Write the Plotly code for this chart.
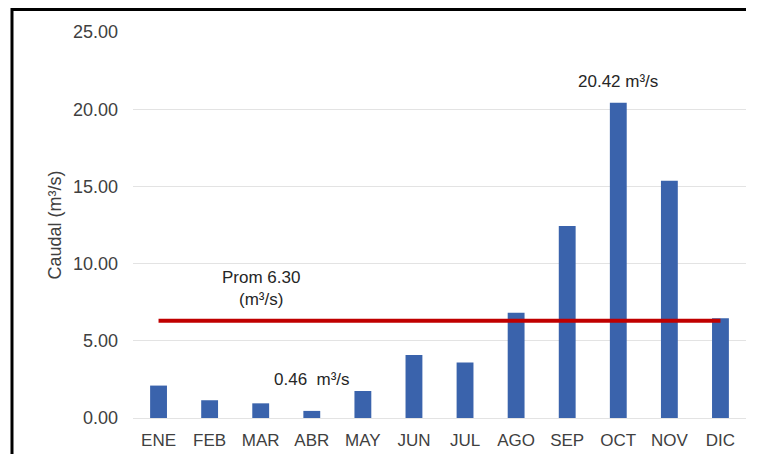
import plotly.graph_objects as go

months = ["ENE", "FEB", "MAR", "ABR", "MAY", "JUN", "JUL", "AGO", "SEP", "OCT", "NOV", "DIC"]
caudal = [2.10, 1.15, 0.95, 0.46, 1.75, 4.08, 3.60, 6.82, 12.43, 20.42, 15.37, 6.46]
y_ticks = [0, 5, 10, 15, 20, 25]
y_tick_labels = ["0.00", "5.00", "10.00", "15.00", "20.00", "25.00"]

prom = round(sum(caudal) / len(caudal), 2)
i_max = caudal.index(max(caudal))
i_min = caudal.index(min(caudal))

FONT = "Arial, Liberation Sans, sans-serif"
TXT = "#404040"

fig = go.Figure()
fig.add_trace(go.Bar(x=months, y=caudal, marker=dict(color="#3A63AC", line=dict(width=0)),
                     showlegend=False, hoverinfo="x+y"))
fig.add_trace(go.Scatter(x=[months[0], months[-1]], y=[prom, prom], mode="lines",
                         line=dict(color="#C00000", width=4), showlegend=False))

fig.add_annotation(x=months[i_max], y=caudal[i_max], xref="x", yref="y",
                   text=f"{caudal[i_max]:.2f} m³/s", showarrow=False,
                   yanchor="bottom", yshift=10, font=dict(size=17, color="#262626", family=FONT))
fig.add_annotation(x=months[i_min], y=caudal[i_min], xref="x", yref="y",
                   text=f"{caudal[i_min]:.2f}  m³/s", showarrow=False,
                   yanchor="bottom", yshift=20, font=dict(size=17, color="#262626", family=FONT))
fig.add_annotation(x=months[2], y=prom, xref="x", yref="y",
                   text=f"Prom {prom:.2f}<br>(m³/s)", showarrow=False,
                   yanchor="bottom", yshift=10, font=dict(size=17, color="#262626", family=FONT))

# outer frame (left / top black)
fig.add_shape(type="line", xref="paper", yref="paper", x0=-0.1974, x1=-0.1974, y0=-0.10, y1=1.062,
              line=dict(color="black", width=3))
fig.add_shape(type="line", xref="paper", yref="paper", x0=-0.1974, x1=1.0, y0=1.058, y1=1.058,
              line=dict(color="black", width=3))

fig.update_layout(
    width=742, height=446,
    margin=dict(l=125, r=4, t=24, b=36),
    paper_bgcolor="white", plot_bgcolor="white",
    bargap=0.67,
    font=dict(family=FONT, color=TXT, size=17),
)
fig.update_xaxes(showgrid=False, showline=False, zeroline=False, ticks="",
                 tickfont=dict(size=17, color=TXT), ticklabelstandoff=10)
fig.update_yaxes(range=[0, 25], tickvals=y_ticks, ticktext=y_tick_labels,
                 showgrid=True, gridcolor="#E3E3E3", gridwidth=1,
                 zeroline=True, zerolinecolor="#E3E3E3", zerolinewidth=1,
                 showline=False, ticks="", tickfont=dict(size=18, color=TXT),
                 ticklabelstandoff=14,
                 title=dict(text="Caudal (m³/s)", font=dict(size=18, color=TXT), standoff=6))

fig.write_html("out.html", config={"displayModeBar": False})
